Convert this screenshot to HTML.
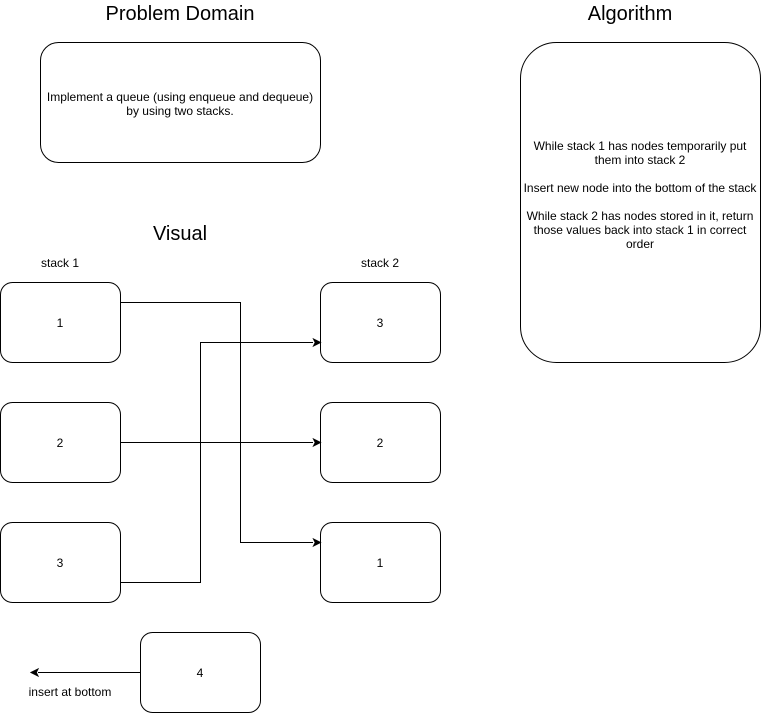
<!DOCTYPE html>
<html><head><meta charset="utf-8"><style>
html,body{margin:0;padding:0;background:#fff;}
svg{display:block;font-family:"Liberation Sans",Helvetica,Arial,sans-serif;}
</style></head><body>
<svg width="761" height="713" viewBox="0 0 761 713" xmlns="http://www.w3.org/2000/svg">
<g fill="#fff" stroke="#000" stroke-width="1">
<rect x="40.5" y="42.5" width="280" height="120" rx="18" ry="18"/>
<rect x="520.5" y="42.5" width="240" height="320" rx="36" ry="36"/>
<rect x="0.5" y="282.5" width="120" height="80" rx="12" ry="12"/>
<rect x="0.5" y="402.5" width="120" height="80" rx="12" ry="12"/>
<rect x="0.5" y="522.5" width="120" height="80" rx="12" ry="12"/>
<rect x="320.5" y="282.5" width="120" height="80" rx="12" ry="12"/>
<rect x="320.5" y="402.5" width="120" height="80" rx="12" ry="12"/>
<rect x="320.5" y="522.5" width="120" height="80" rx="12" ry="12"/>
<rect x="140.5" y="632.5" width="120" height="80" rx="12" ry="12"/>
</g>
<g fill="none" stroke="#000" stroke-width="1">
<path d="M120.5 302.5H240.5V542.5H313"/>
<path d="M120.5 582.5H200.5V342.5H313"/>
<path d="M120.5 442.5H313"/>
<path d="M140.5 672.5H38"/>
</g>
<g fill="#000" stroke="#000">
<path d="M320.5 542.5l-7 -3.5 1.75 3.5 -1.75 3.5z"/>
<path d="M320.5 342.5l-7 -3.5 1.75 3.5 -1.75 3.5z"/>
<path d="M320.5 442.5l-7 -3.5 1.75 3.5 -1.75 3.5z"/>
<path d="M31 672.5l7 -3.5 -1.75 3.5 1.75 3.5z"/>
</g>
<g font-size="20" text-anchor="middle" fill="#000">
<text x="180" y="20">Problem Domain</text>
<text x="630" y="20">Algorithm</text>
<text x="180" y="240">Visual</text>
</g>
<g font-size="12" text-anchor="middle" fill="#000">
<text x="180" y="101">Implement a queue (using enqueue and dequeue)</text>
<text x="180" y="115">by using two stacks.</text>
<text x="640" y="150">While stack 1 has nodes temporarily put</text>
<text x="640" y="164">them into stack 2</text>
<text x="640" y="192">Insert new node into the bottom of the stack</text>
<text x="640" y="220">While stack 2 has nodes stored in it, return</text>
<text x="640" y="234">those values back into stack 1 in correct</text>
<text x="640" y="248">order</text>
<text x="60" y="267">stack 1</text>
<text x="380" y="267">stack 2</text>
<text x="60" y="327">1</text>
<text x="60" y="447">2</text>
<text x="60" y="567">3</text>
<text x="380" y="327">3</text>
<text x="380" y="447">2</text>
<text x="380" y="567">1</text>
<text x="200" y="677">4</text>
<text x="70" y="696">insert at bottom</text>
</g>
</svg>
</body></html>
